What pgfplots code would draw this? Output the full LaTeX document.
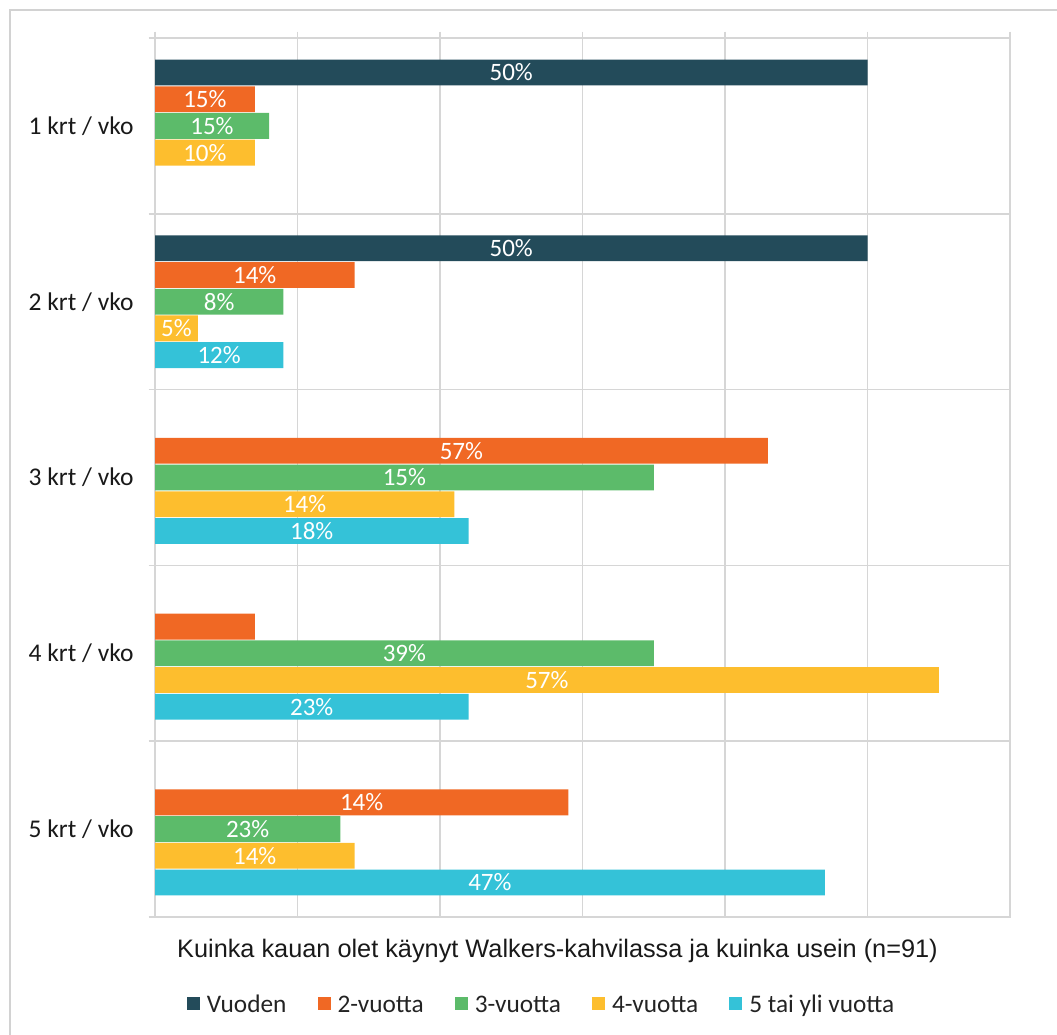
\documentclass[border=0pt]{standalone}
\usepackage{fontspec}
\setmainfont{Liberation Sans}
\newfontfamily\carlito{Carlito}
\usepackage{pgfplots}
\usepackage{pgfplotstable}
\pgfplotsset{compat=1.18}
\definecolor{cVuo}{RGB}{35,75,90}
\definecolor{cTwo}{RGB}{240,104,36}
\definecolor{cThree}{RGB}{92,187,106}
\definecolor{cFour}{RGB}{253,190,46}
\definecolor{cFive}{RGB}{52,194,216}
\definecolor{gridc}{RGB}{214,214,214}
\definecolor{borderc}{RGB}{210,210,210}
\definecolor{labc}{RGB}{25,25,25}
\definecolor{legc}{RGB}{35,35,35}

% y = category (0 = 1 krt / vko) + slot offset, v = bar length, lab = printed label
\pgfplotstableread{
y v lab
-0.3038 50 50\%
0.6962 50 50\%
}\tVuoden
\pgfplotstableread{
y v lab
-0.1519 7 15\%
0.8481 14 14\%
1.8481 43 57\%
2.8481 7 {}
3.8481 29 14\%
}\tTwo
\pgfplotstableread{
y v lab
0 8 15\%
1 9 8\%
2 35 15\%
3 35 39\%
4 13 23\%
}\tThree
\pgfplotstableread{
y v lab
0.1519 7 10\%
1.1519 3 5\%
2.1519 21 14\%
3.1519 55 57\%
4.1519 14 14\%
}\tFour
\pgfplotstableread{
y v lab
1.3038 9 12\%
2.3038 22 18\%
3.3038 22 23\%
4.3038 47 47\%
}\tFive

\pgfplotsset{
  mybar/.style={xbar, bar width=0.147, bar shift=0pt, draw=none, fill=#1},
  mylab/.style={draw=none, mark=none, forget plot, nodes near coords,
    point meta=explicit symbolic,
    nodes near coords style={anchor=center, inner sep=0pt, text=white,
      font=\carlito\fontsize{25}{26}\selectfont}},
}

\begin{document}
\begin{tikzpicture}[x=1pt,y=1pt]
\useasboundingbox (0,0) rectangle (1057,-1035);
\draw[borderc, line width=1.5pt] (10,-1045) -- (10,-10) -- (1070,-10);
\begin{axis}[
  at={(155pt,-917pt)}, anchor=south west,
  scale only axis, width=855pt, height=879pt,
  xmin=0, xmax=60, ymin=-0.5, ymax=4.5, y dir=reverse,
  xtick={0,10,...,60}, xticklabels={}, xtick pos=right,
  xmajorgrids,
  ytick={-0.5,0.5,...,4.5}, yticklabels={}, ytick pos=left,
  ymajorgrids,
  tick align=outside, major tick length=6.5pt,
  tick style={draw=gridc, line width=1.6pt},
  grid style={draw=gridc, line width=1.6pt},
  axis line style={draw=gridc, line width=1.6pt},
  extra y ticks={0,1,2,3,4},
  extra y tick labels={1 krt / vko, 2 krt / vko, 3 krt / vko, 4 krt / vko, 5 krt / vko},
  extra y tick style={grid=none, major tick length=0pt, tick style={draw=none},
    yticklabel style={xshift=-18pt, text=labc, font=\carlito\fontsize{25.5}{28}\selectfont}},
  legend columns=5,
  legend image code/.code={\fill[#1] (0pt,-5pt) rectangle (13pt,8pt);},
  legend style={at={(axis description cs:0.0374,-0.100)}, anchor=west,
    draw=none, fill=none, inner sep=0pt, outer sep=0pt,
    font=\carlito\fontsize{25.3}{30}\selectfont, text=legc,
    nodes={inner sep=0pt},
    /tikz/every odd column/.append style={column sep=7pt},
    /tikz/every even column/.append style={column sep=31pt}},
]
\addplot[mybar=cVuo] table[x=v, y=y] {\tVuoden};
\addlegendentry{Vuoden}
\addplot[mybar=cTwo] table[x=v, y=y] {\tTwo};
\addlegendentry{2-vuotta}
\addplot[mybar=cThree] table[x=v, y=y] {\tThree};
\addlegendentry{3-vuotta}
\addplot[mybar=cFour] table[x=v, y=y] {\tFour};
\addlegendentry{4-vuotta}
\addplot[mybar=cFive] table[x=v, y=y] {\tFive};
\addlegendentry{5 tai yli vuotta}

\addplot[mylab] table[x expr=\thisrow{v}/2, y=y, meta=lab] {\tVuoden};
\addplot[mylab] table[x expr=\thisrow{v}/2, y=y, meta=lab] {\tTwo};
\addplot[mylab] table[x expr=\thisrow{v}/2, y=y, meta=lab] {\tThree};
\addplot[mylab] table[x expr=\thisrow{v}/2, y=y, meta=lab] {\tFour};
\addplot[mylab] table[x expr=\thisrow{v}/2, y=y, meta=lab] {\tFive};
\end{axis}
\node[anchor=base, font=\fontsize{25.3}{30}\selectfont, text=black!90] at (557.5,-957)
  {Kuinka kauan olet käynyt Walkers-kahvilassa ja kuinka usein (n=91)};
\end{tikzpicture}
\end{document}
